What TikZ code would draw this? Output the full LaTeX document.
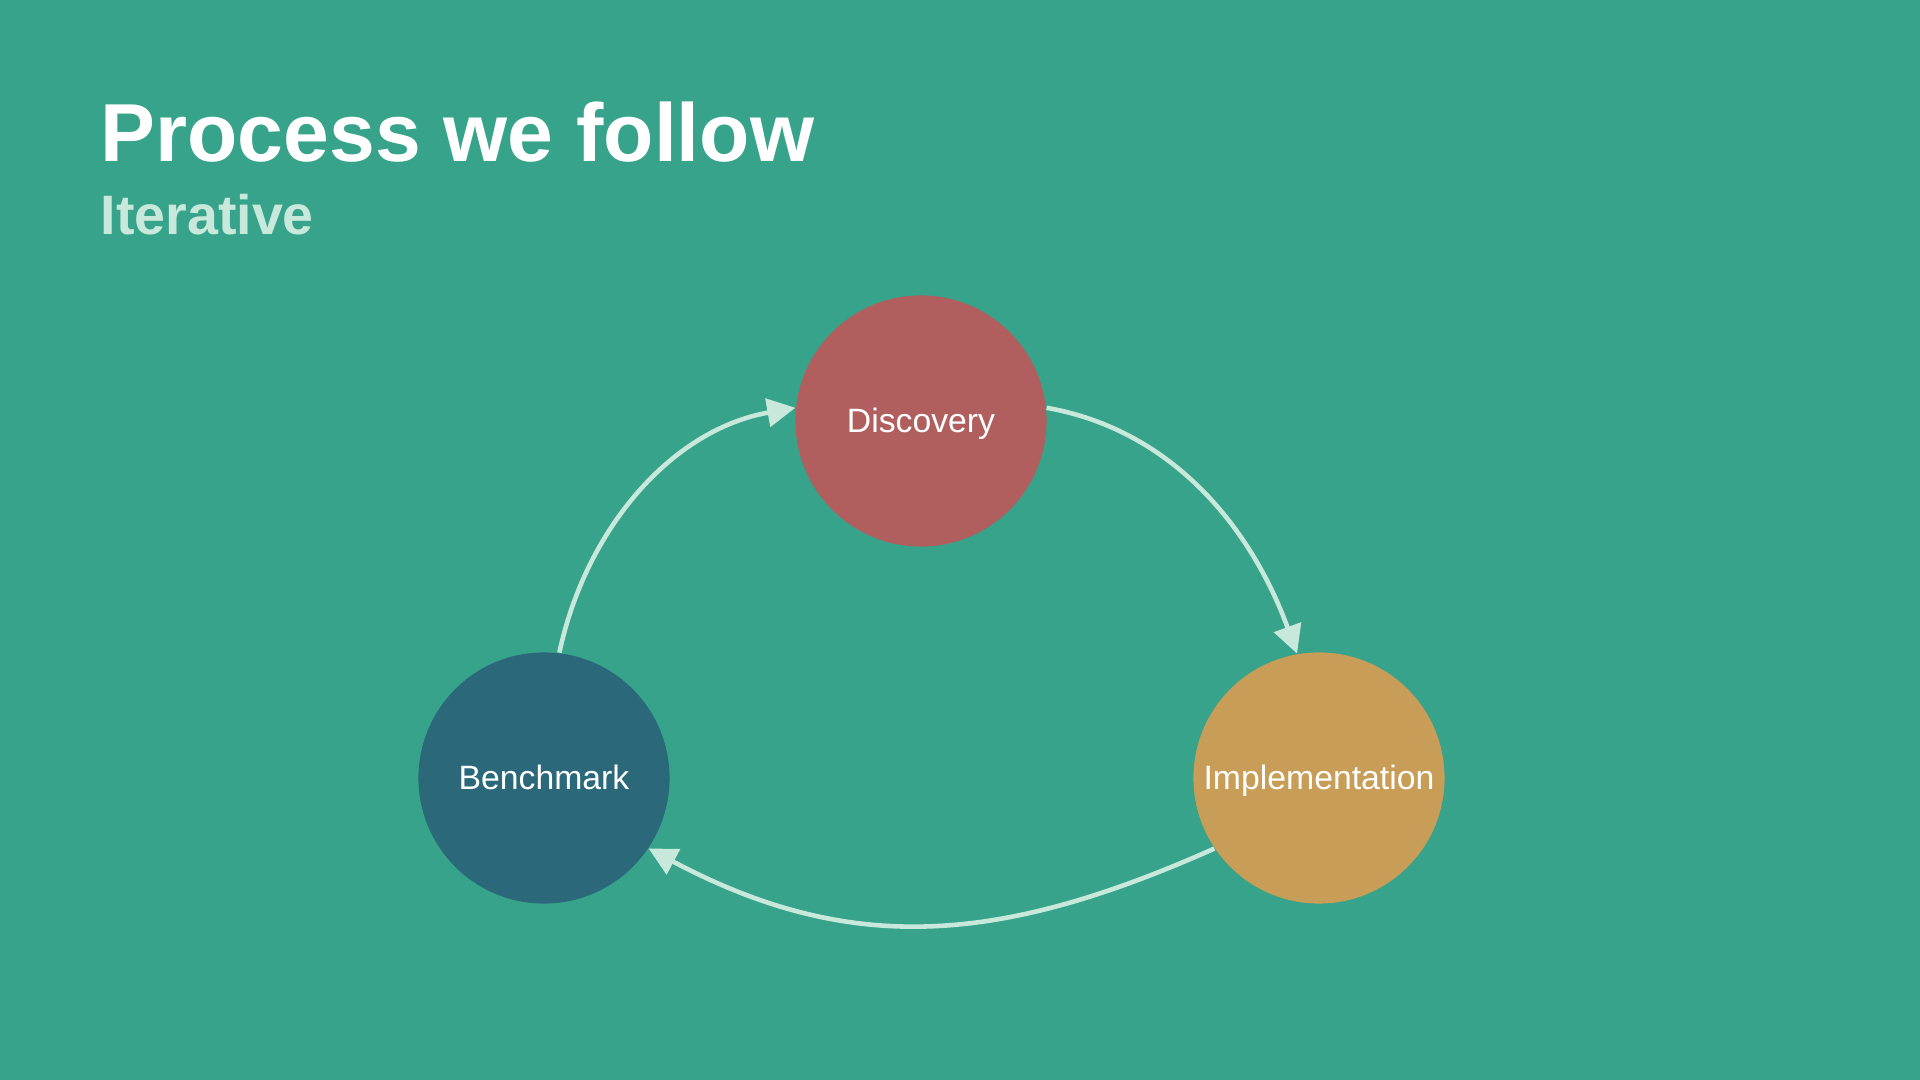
\documentclass[tikz,border=0pt]{standalone}
\usepackage{fontspec}
\setmainfont{Liberation Sans}
\usetikzlibrary{arrows.meta}
\definecolor{bgteal}{RGB}{54,163,138}
\definecolor{chalk}{RGB}{200,232,220}
\definecolor{discred}{RGB}{176,95,94}
\definecolor{benchblue}{RGB}{42,104,122}
\definecolor{implgold}{RGB}{200,157,88}
\begin{document}
\begin{tikzpicture}[x={(0.01cm,0cm)},y={(0cm,-0.01cm)},
  stage/.style={circle, minimum size=2.51cm, inner sep=0pt, text=white, text height=0.72em, text depth=0.05em, font=\fontsize{9.6}{11}\selectfont},
  cycle/.style={draw=chalk, line width=1.3pt, -{Triangle[length=8pt,width=8pt]}}]
\fill[bgteal] (0,0) rectangle (1920,1080);
\node[anchor=base west, inner sep=0pt, text=white, font=\fontsize{23.4}{28}\selectfont\bfseries] (title) at (100,162) {Process we follow};
\node[anchor=base west, inner sep=0pt, text=chalk, font=\fontsize{15.8}{19}\selectfont\bfseries] (subtitle) at (100,235) {Iterative};
\node[stage, fill=discred] (disc) at (921,421) {Discovery};
\node[stage, fill=benchblue] (bench) at (544,778) {Benchmark};
\node[stage, fill=implgold] (impl) at (1319,778) {Implementation};
\draw[cycle] (bench.83) to[out=78,in=190,looseness=0.95] (disc.174);
\draw[cycle] (disc.6) to[out=-10,in=110,looseness=0.95] (impl.100);
\draw[cycle] (impl.214) to[out=204,in=-28,looseness=1.05] (bench.326);
\end{tikzpicture}
\end{document}
